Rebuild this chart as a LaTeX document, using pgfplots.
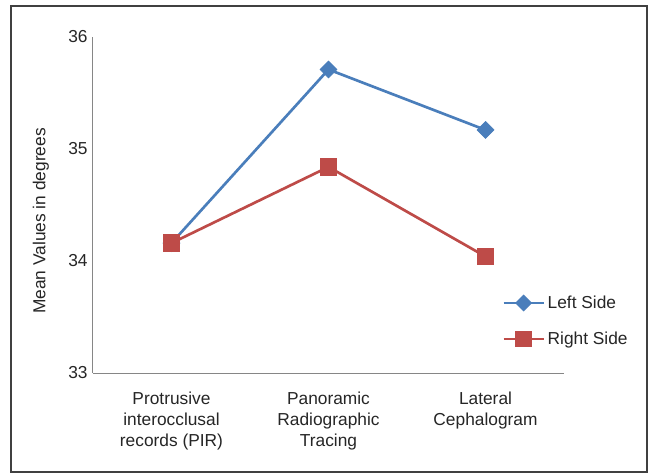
\documentclass[border=0pt]{standalone}
\usepackage{pgfplots}
\pgfplotsset{compat=1.18}
\usepackage{fontspec}
\setmainfont{Liberation Sans}

\definecolor{leftblue}{HTML}{4A7EBB}
\definecolor{rightred}{HTML}{BE4B48}
\definecolor{axisgray}{HTML}{868686}

\begin{document}
\begin{tikzpicture}[x=0.75pt,y=0.75pt]
% page and frame (units are pixels of the reference)
\useasboundingbox[fill=white] (-93,-101) rectangle (559,373);
\draw[black!75, line width=0.9pt] (-82,-99) rectangle (554,367);
\begin{axis}[
    at={(0,0)}, anchor=south west,
    scale only axis,
    width=353.25pt, height=252pt,
    xmin=0.5, xmax=3.5,
    ymin=33, ymax=36,
    ytick={33,34,35,36},
    xtick={1,2,3},
    xticklabels={{Protrusive\\interocclusal\\records (PIR)},{Panoramic\\Radiographic\\Tracing},{Lateral\\Cephalogram}},
    axis x line*=bottom, axis y line*=left,
    axis line style={draw=axisgray, line width=0.75pt, -},
    major tick length=0pt,
    tick label style={font=\fontsize{13}{15.75}\selectfont, text=black!85},
    xticklabel style={align=center, yshift=-11pt},
    yticklabel style={xshift=-0.5pt},
    /pgf/number format/assume math mode=true,
    ylabel={Mean Values in degrees},
    every axis y label/.style={at={(rel axis cs:0,0.5)}, xshift=-39pt, yshift=-12pt, rotate=90, anchor=center, font=\fontsize{13}{15}\selectfont, text=black!85},
    legend style={draw=none, fill=none, at={(axis cs:3.08,33.74)}, anchor=north west,
        font=\fontsize{13}{15}\selectfont, text=black!85, row sep=12pt,
        legend cell align=left},
    legend image code/.code={
        \draw[#1, mark=none] (0pt,0pt) -- (30pt,0pt);
        \draw[#1, draw opacity=0] plot coordinates {(15pt,0pt)};
    },
    clip=false,
]
\addplot[leftblue, line width=2pt, mark=square*, mark size=4.5pt,
    mark options={rotate=45, fill=leftblue, draw=leftblue, line width=0.5pt}]
    coordinates {(1,34.16) (2,35.71) (3,35.17)};
\addlegendentry{Left Side}
\addplot[rightred, line width=2pt, mark=square*, mark size=6.2pt,
    mark options={fill=rightred, draw=rightred, line width=0.5pt}]
    coordinates {(1,34.16) (2,34.84) (3,34.04)};
\addlegendentry{Right Side}
\end{axis}
\end{tikzpicture}
\end{document}
